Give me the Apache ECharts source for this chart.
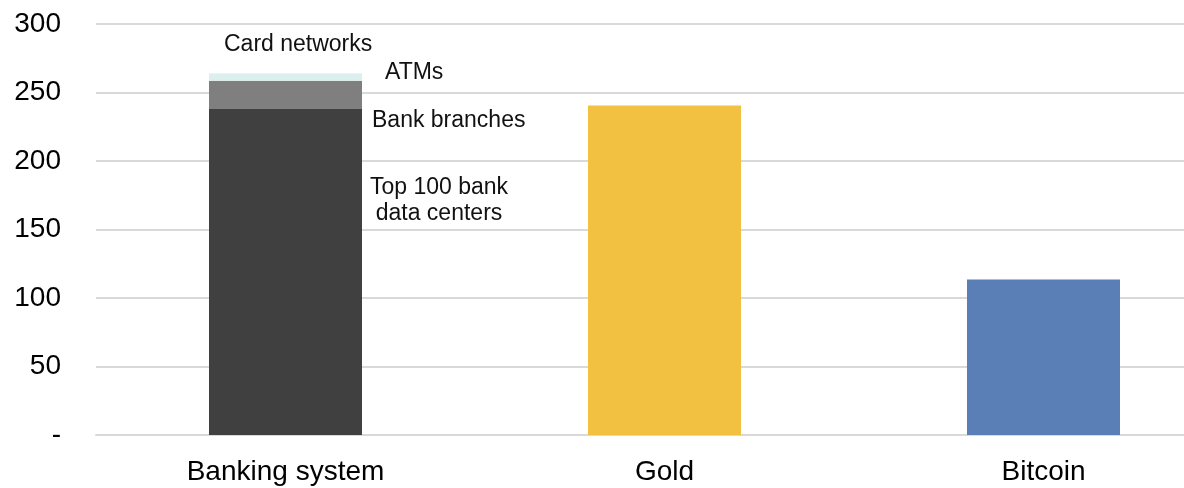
<!DOCTYPE html>
<html>
<head>
<meta charset="utf-8">
<style>
  html, body { margin: 0; padding: 0; background: #ffffff; }
  #chart { width: 1184px; height: 488px; }
</style>
<script src="https://cdn.jsdelivr.net/npm/echarts@6/dist/echarts.min.js"></script>
</head>
<body>
<div id="chart"></div>
<script>
// Categories along the x axis
const categories = ['Banking system', 'Gold', 'Bitcoin'];

// Banking system components (stacked), other systems as single bars
const dataCenters  = [238, null, null];
const bankBranches = [20.5, null, null];
const atms         = [5, null, null];
const cardNetworks = [0.8, null, null];
const gold         = [null, 240.5, null];
const bitcoin      = [null, null, 113.5];

// Value axis ticks
const yMin = 0;
const yMax = 300;
const yStep = 50;

const FONT = '"Liberation Sans", Arial, sans-serif';
const labelBase = {
  show: true,
  color: '#111111',
  fontFamily: FONT,
  fontSize: 23
};

function stackSeries(name, data, color, label) {
  return {
    name: name,
    type: 'bar',
    stack: 'total',
    data: data,
    barWidth: 153,
    itemStyle: { color: color },
    label: label ? Object.assign({}, labelBase, label) : { show: false },
    emphasis: { disabled: true },
    animation: false
  };
}

const chart = echarts.init(document.getElementById('chart'), null, { renderer: 'canvas' });

chart.setOption({
  backgroundColor: '#ffffff',
  animation: false,
  // plot area runs past the right edge of the canvas
  grid: {
    left: 96, right: -49, top: 24, bottom: 53,
    containLabel: false,
    outerBoundsMode: 'none'
  },
  xAxis: {
    type: 'category',
    data: categories,
    boundaryGap: true,
    axisTick: { show: false },
    axisLine: { show: true, lineStyle: { color: '#d9d9d9', width: 2 } },
    axisLabel: {
      color: '#000000',
      fontFamily: FONT,
      fontSize: 28,
      margin: 23
    }
  },
  yAxis: {
    type: 'value',
    min: yMin,
    max: yMax,
    interval: yStep,
    axisLine: { show: false },
    axisTick: { show: false },
    splitLine: { show: true, lineStyle: { color: '#d9d9d9', width: 2 } },
    axisLabel: {
      color: '#000000',
      fontFamily: FONT,
      fontSize: 28,
      margin: 35,
      formatter: v => (v === 0 ? '-' : String(v))
    }
  },
  series: [
    stackSeries('Top 100 bank data centers', dataCenters, '#404040', {
      position: [230, 92],
      align: 'center',
      verticalAlign: 'middle',
      lineHeight: 26,
      formatter: 'Top 100 bank\ndata centers'
    }),
    stackSeries('Bank branches', bankBranches, '#7f7f7f', {
      position: [163, 40],
      align: 'left',
      verticalAlign: 'middle',
      formatter: 'Bank branches'
    }),
    stackSeries('ATMs', atms, '#dcefef', {
      position: [176, -1],
      align: 'left',
      verticalAlign: 'middle',
      formatter: 'ATMs'
    }),
    stackSeries('Card networks', cardNetworks, '#eaf5f5', {
      position: [15, -28],
      align: 'left',
      verticalAlign: 'middle',
      formatter: 'Card networks'
    }),
    stackSeries('Gold', gold, '#f3c142', null),
    stackSeries('Bitcoin', bitcoin, '#5a7fb6', null)
  ]
});
</script>
</body>
</html>
